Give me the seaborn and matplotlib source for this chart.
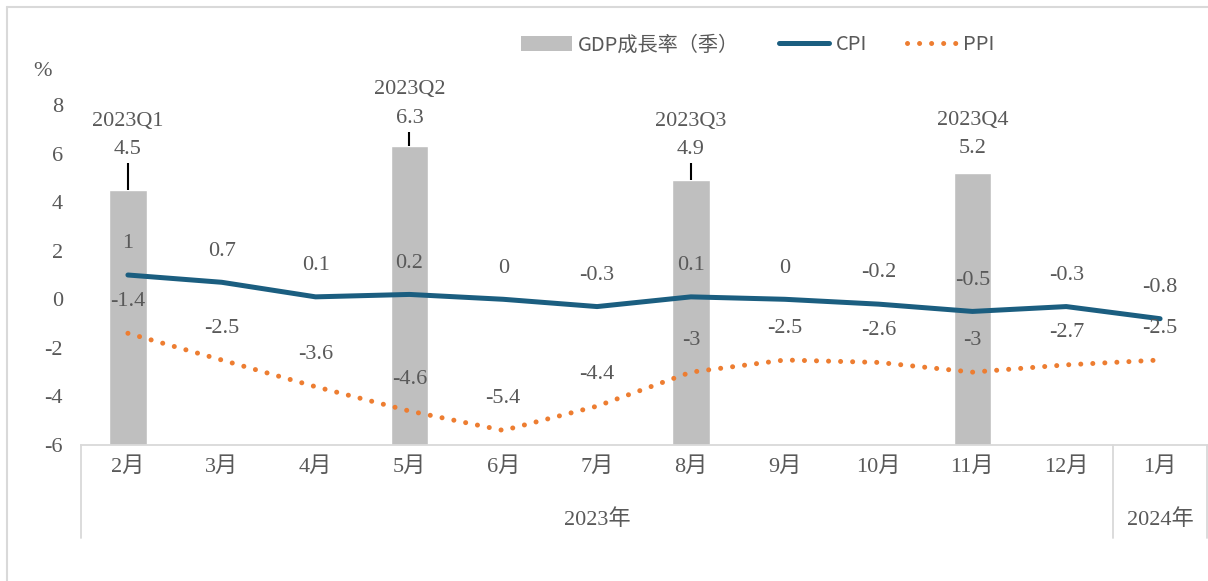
import matplotlib.pyplot as plt
import numpy as np
import pandas as pd
import seaborn as sns
from matplotlib.lines import Line2D
from matplotlib.patches import Patch

# data
months = ["2月", "3月", "4月", "5月", "6月", "7月", "8月", "9月", "10月", "11月", "12月", "1月"]
cpi = [1, 0.7, 0.1, 0.2, 0, -0.3, 0.1, 0, -0.2, -0.5, -0.3, -0.8]
ppi = [-1.4, -2.5, -3.6, -4.6, -5.4, -4.4, -3, -2.5, -2.6, -3, -2.7, -2.5]
gdp_months = ["2月", "5月", "8月", "11月"]
gdp_quarters = ["2023Q1", "2023Q2", "2023Q3", "2023Q4"]
gdp = [4.5, 6.3, 4.9, 5.2]
years = ["2023年", "2024年"]
year_months = [11, 1]

# layout / style
gdp_label_y = [6.15, 7.45, 6.15, 6.2]
Y_MIN, Y_MAX = -6, 8
BAR_COLOR = "#BFBFBF"
CPI_COLOR = "#1B5E80"
PPI_COLOR = "#ED7D31"
TEXT_COLOR = "#595959"
LINE_GREY = "#D9D9D9"
W, H = 1208, 581

sns.set_theme(style="white")
plt.rcParams["font.family"] = ["Liberation Serif", "Noto Sans CJK TC"]
plt.rcParams["font.size"] = 16
plt.rcParams["axes.unicode_minus"] = False

fig = plt.figure(figsize=(W / 100, H / 100), dpi=100)
ax_bottom, ax_top = 445, 105
ax = fig.add_axes([81 / W, 1 - ax_bottom / H, (1207 - 81) / W, (ax_bottom - ax_top) / H])

gdp_df = pd.DataFrame({"month": gdp_months, "gdp": gdp})
sns.barplot(data=gdp_df, x="month", y="gdp", order=months, color=BAR_COLOR,
            width=0.4, saturation=1, ax=ax)
# Excel draws the columns up from the axis floor (-6)
for p in ax.patches:
    h = p.get_height()
    p.set_y(Y_MIN)
    p.set_height(h - Y_MIN)

pos = np.arange(len(months))
sns.lineplot(x=pos, y=cpi, color=CPI_COLOR, lw=3.6, solid_capstyle="round", ax=ax)
sns.lineplot(x=pos, y=ppi, color=PPI_COLOR, lw=3.6, linestyle=(0, (0.01, 2.4)),
             dash_capstyle="round", ax=ax)

for i, v in enumerate(cpi):
    ax.annotate(f"{v:g}", (i, v), xytext=(0, 22.5), textcoords="offset points",
                ha="center", va="center", color=TEXT_COLOR, fontsize=16)
for i, v in enumerate(ppi):
    ax.annotate(f"{v:g}", (i, v), xytext=(0, 23), textcoords="offset points",
                ha="center", va="center", color=TEXT_COLOR, fontsize=16)

# GDP labels with leader lines
for m, q, v, ly in zip(gdp_months, gdp_quarters, gdp, gdp_label_y):
    i = months.index(m)
    top = ly - 0.55
    if top - v > 0.5:
        ax.plot([i, i], [v, top], color="black", lw=1.5, solid_capstyle="butt")
    ax.text(i, ly, f"{v:g}", ha="center", va="center", color=TEXT_COLOR,
            fontsize=16, clip_on=False)
    ax.text(i, ly + 1.17, q, ha="center", va="center", color=TEXT_COLOR,
            fontsize=16, clip_on=False)

ax.set_xlim(-0.5, len(months) - 0.5)
ax.set_ylim(Y_MIN, Y_MAX)
ax.set_yticks(range(Y_MIN, Y_MAX + 1, 2))
ax.set_xlabel("")
ax.set_ylabel("")
ax.tick_params(axis="y", length=0, pad=13, labelcolor=TEXT_COLOR, labelsize=16)
ax.tick_params(axis="x", length=0, pad=9, labelcolor=TEXT_COLOR, labelsize=16)
for side in ["left", "top", "right"]:
    ax.spines[side].set_visible(False)
ax.spines["bottom"].set_color(LINE_GREY)
ax.spines["bottom"].set_linewidth(1.3)
ax.spines["bottom"].set_zorder(5)

# second level category axis (years)
axh = ax_bottom - ax_top
sep_y = -(538 - ax_bottom) / axh
year_y = -(520 - ax_bottom) / axh
trans = ax.get_xaxis_transform()
start = 0
edges = [-0.5]
for y_label, n in zip(years, year_months):
    ax.text(start + (n - 1) / 2, year_y, y_label, transform=trans, ha="center",
            va="center", color=TEXT_COLOR, fontsize=16)
    start += n
    edges.append(start - 0.5)
for e in edges:
    ax.plot([e, e], [0, sep_y], transform=trans, color=LINE_GREY, lw=1.3, clip_on=False)

fig.text(42 / W, 1 - 72 / H, "%", ha="center", va="center", color=TEXT_COLOR, fontsize=16)

# legend
handles = [
    Patch(facecolor=BAR_COLOR, edgecolor="none"),
    Line2D([], [], color=CPI_COLOR, lw=3.6, solid_capstyle="round"),
    Line2D([], [], color=PPI_COLOR, lw=3.6, linestyle=(0, (0.01, 2.4)), dash_capstyle="round"),
]
fig.legend(handles, ["GDP成長率（季）", "CPI", "PPI"], loc="center",
           bbox_to_anchor=(758 / W, 1 - 45 / H), ncol=3, frameon=False,
           prop={"family": ["Noto Sans CJK TC"], "size": 14.5, "weight": "light"},
           labelcolor=TEXT_COLOR, handlelength=2.5, handleheight=0.8,
           handletextpad=0.3, columnspacing=2.0)

# outer border (left and top visible)
fig.add_artist(Line2D([7 / W, 7 / W], [0, 1 - 7 / H], color=LINE_GREY, lw=1.5))
fig.add_artist(Line2D([7 / W, 1], [1 - 7 / H, 1 - 7 / H], color=LINE_GREY, lw=1.5))

fig.savefig("out.png", dpi=100)
